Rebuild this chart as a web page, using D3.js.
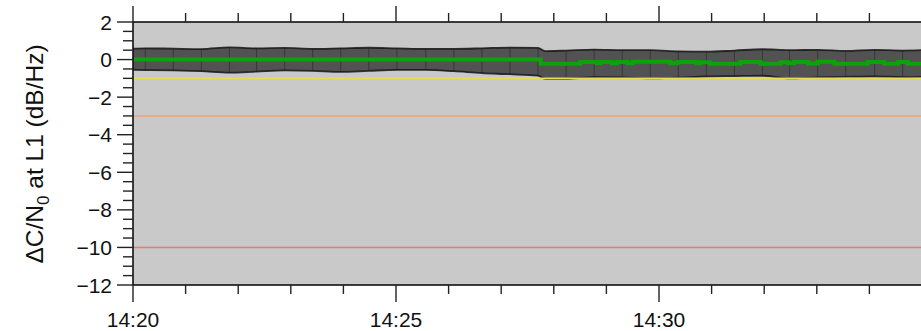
<!DOCTYPE html>
<html><head><meta charset="utf-8">
<script src="https://cdn.jsdelivr.net/npm/d3@7"></script>
<style>html,body{margin:0;padding:0;background:#fff;overflow:hidden}svg{display:block}</style>
</head><body><svg id="c" width="921" height="331"></svg>
<script>
// ---- data ----
const xDomain = ["14:20:00", "14:35:00"];
const xTickLabels = ["14:20", "14:25", "14:30"];
const yDomain = [-12, 2];
const yTickValues = [2, 0, -2, -4, -6, -8, -10, -12];

const bandTimes = ["14:20:00","14:20:14","14:20:46","14:21:18","14:21:50","14:22:21","14:22:53","14:23:25","14:23:57","14:24:29","14:25:01","14:25:34","14:26:06","14:26:38","14:27:10","14:27:42","14:27:50","14:28:14","14:28:46","14:29:18","14:29:50","14:30:22","14:30:54","14:31:26","14:31:58","14:32:29","14:33:01","14:33:33","14:34:06","14:34:38","14:35:00"];
const bandUpper = [0.58,0.60,0.58,0.56,0.65,0.60,0.62,0.57,0.60,0.63,0.60,0.57,0.57,0.60,0.64,0.62,0.45,0.48,0.53,0.50,0.50,0.44,0.42,0.48,0.55,0.50,0.52,0.46,0.52,0.48,0.50];
const bandLower = [-0.55,-0.56,-0.58,-0.62,-0.70,-0.64,-0.58,-0.60,-0.66,-0.60,-0.55,-0.55,-0.62,-0.72,-0.78,-0.86,-1.03,-1.02,-0.94,-0.95,-1.00,-0.96,-0.90,-0.88,-0.86,-1.00,-0.95,-0.92,-0.90,-0.93,-0.92];
const binEdges = ["14:20:14","14:20:46","14:21:18","14:21:50","14:22:21","14:22:53","14:23:25","14:23:57","14:24:29","14:25:01","14:25:34","14:26:06","14:26:38","14:27:10","14:27:42","14:28:14","14:28:46","14:29:18","14:29:50","14:30:22","14:30:54","14:31:26","14:31:58","14:32:29","14:33:01","14:33:33","14:34:06","14:34:38"];

const greenTimes = ["14:20:00","14:27:45","14:28:30","14:28:49","14:28:53","14:29:06","14:29:12","14:29:24","14:29:30","14:30:13","14:30:21","14:30:43","14:30:47","14:30:58","14:31:33","14:31:56","14:32:19","14:32:27","14:32:34","14:32:50","14:33:01","14:33:20","14:33:58","14:34:17","14:34:33","14:34:44","14:35:00"];
const greenValues = [0,-0.22,-0.13,-0.20,-0.13,-0.20,-0.13,-0.19,-0.12,-0.20,-0.13,-0.19,-0.14,-0.22,-0.13,-0.22,-0.14,-0.19,-0.13,-0.21,-0.12,-0.22,-0.13,-0.22,-0.13,-0.22,-0.22];

const thresholdValues = [-1, -3, -10];
const thresholdColors = ["#e6df4a", "#f0a272", "#e57a78"];

const yTitle = "ΔC/N";
// ---- chart ----
const parse = d3.timeParse("%H:%M:%S");
const parseHM = d3.timeParse("%H:%M");
const svg = d3.select("#c");
const L = 133, R = 922, T = 22, B = 285;
const x = d3.scaleTime().domain(xDomain.map(parse)).range([L, R]);
const y = d3.scaleLinear().domain(yDomain).range([B, T]);

svg.append("rect").attr("x", L).attr("y", T).attr("width", R - L).attr("height", B - T).attr("fill", "#c9c9c9");

const band = bandTimes.map((t, i) => ({t: parse(t), u: bandUpper[i], l: bandLower[i]}));
const area = d3.area().x(d => x(d.t)).y0(d => y(d.l)).y1(d => y(d.u)).curve(d3.curveMonotoneX);
svg.append("path").datum(band).attr("d", area).attr("fill", "#525252");

// bin dividers
const bandIdx = new Map(bandTimes.map((t, i) => [t, i]));
svg.append("g").selectAll("line").data(binEdges).join("line")
  .attr("x1", d => x(parse(d))).attr("x2", d => x(parse(d)))
  .attr("y1", d => y(bandUpper[bandIdx.get(d)])).attr("y2", d => y(bandLower[bandIdx.get(d)]))
  .attr("stroke", "#383838").attr("stroke-width", 1);

const lineU = d3.line().x(d => x(d.t)).y(d => y(d.u)).curve(d3.curveMonotoneX);
const lineL = d3.line().x(d => x(d.t)).y(d => y(d.l)).curve(d3.curveMonotoneX);
svg.append("path").datum(band).attr("d", lineU).attr("fill", "none").attr("stroke", "#161616").attr("stroke-width", 1.8).attr("opacity", 0.85);
svg.append("path").datum(band).attr("d", lineL).attr("fill", "none").attr("stroke", "#161616").attr("stroke-width", 1.8).attr("opacity", 0.85);

// thresholds
svg.append("g").selectAll("line").data(thresholdValues).join("line")
  .attr("x1", L).attr("x2", R).attr("y1", d => y(d)).attr("y2", d => y(d))
  .attr("stroke", (d, i) => thresholdColors[i]).attr("stroke-width", 1.6);

// green line
const green = greenTimes.map((t, i) => ({t: parse(t), v: greenValues[i]}));
svg.append("path").datum(green)
  .attr("d", d3.line().x(d => x(d.t)).y(d => y(d.v)).curve(d3.curveStepAfter))
  .attr("fill", "none").attr("stroke", "#0aa30a").attr("stroke-width", 4);

// frame
svg.append("rect").attr("x", L).attr("y", T).attr("width", R - L).attr("height", B - T)
  .attr("fill", "none").attr("stroke", "#111").attr("stroke-width", 1.6);

// axes
const font = "'Liberation Sans', Arial, Helvetica, sans-serif";
const minuteTicks = x.ticks(d3.timeMinute.every(1));
const majorSet = new Set(xTickLabels.map(s => +parseHM(s)));
const gx = svg.append("g");
gx.selectAll("line.b").data(minuteTicks).join("line").attr("class", "b")
  .attr("x1", d => x(d)).attr("x2", d => x(d))
  .attr("y1", B).attr("y2", d => B + (majorSet.has(+d) ? 17 : 9))
  .attr("stroke", "#222").attr("stroke-width", 1.4);
gx.selectAll("line.t").data(minuteTicks).join("line").attr("class", "t")
  .attr("x1", d => x(d)).attr("x2", d => x(d))
  .attr("y1", T).attr("y2", d => T - (majorSet.has(+d) ? 16 : 9))
  .attr("stroke", "#222").attr("stroke-width", 1.4);
gx.selectAll("text").data(xTickLabels).join("text")
  .attr("x", d => x(parseHM(d))).attr("y", 327).attr("text-anchor", "middle")
  .attr("font-family", font).attr("font-size", 21).attr("fill", "#111").text(d => d);

const gy = svg.append("g");
const yMinor = d3.range(yDomain[0], yDomain[1] + 0.01, 0.5);
gy.selectAll("line").data(yMinor).join("line")
  .attr("x1", d => L - (Number.isInteger(d / 2) ? 16 : 10)).attr("x2", L)
  .attr("y1", d => y(d)).attr("y2", d => y(d))
  .attr("stroke", "#222").attr("stroke-width", 1.4);
gy.selectAll("text").data(yTickValues).join("text")
  .attr("x", 112).attr("y", d => y(d)).attr("dy", "0.36em").attr("text-anchor", "end")
  .attr("font-family", font).attr("font-size", 21).attr("fill", "#111")
  .text(d => d3.format("d")(d).replace("-", "\u2212"));

// y title
const tt = svg.append("text").attr("transform", "translate(43,154) rotate(-90)")
  .attr("text-anchor", "middle").attr("font-family", font).attr("font-size", 24.5).attr("fill", "#111");
tt.append("tspan").text(yTitle);
tt.append("tspan").attr("font-size", 17).attr("dy", 6).text("0");
tt.append("tspan").attr("dy", -6).text(" at L1 (dB/Hz)");
</script></body></html>
